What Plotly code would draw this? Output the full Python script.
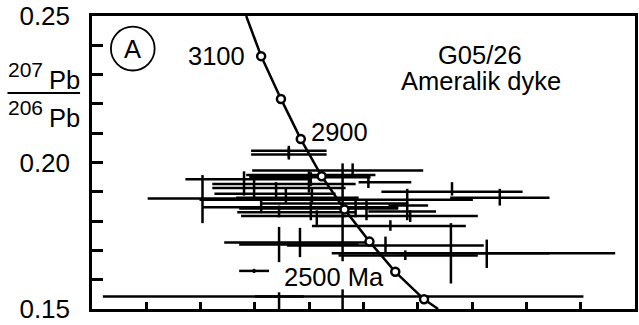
import plotly.graph_objects as go

# ---- concordia (Tera-Wasserburg) ----
conc_line_x = [1.568, 1.623, 1.696, 1.769, 1.846, 1.930, 2.022, 2.117, 2.223, 2.275]
conc_line_y = [0.250, 0.2363, 0.2217, 0.2080, 0.1953, 0.1840, 0.1730, 0.1627, 0.1533, 0.150]
conc_ages = [3100, 3000, 2900, 2800, 2700, 2600, 2500, 2400]
conc_tick_x = [1.623, 1.696, 1.769, 1.846, 1.930, 2.022, 2.117, 2.223]
conc_tick_y = [0.2363, 0.2217, 0.2080, 0.1953, 0.1840, 0.1730, 0.1627, 0.1533]

# ---- analyses: centre, x-range, y-range (238U/206Pb, 207Pb/206Pb) ----
spot_x = [1.725, 1.725, 1.960, 1.799, 1.806, 1.560, 1.407, 1.923, 1.623, 1.597, 1.678,
          2.326, 2.502, 1.810, 1.971, 1.806, 1.689, 2.172, 2.011, 1.828, 2.099, 2.322,
          1.766, 1.689, 2.081, 2.454, 2.154, 1.597, 1.923, 1.689, 2.018, 2.161, 1.714]
spot_y = [0.2040, 0.2027, 0.1973, 0.1957, 0.1950, 0.1943, 0.1877, 0.1873, 0.1847, 0.1927, 0.1913,
          0.1900, 0.1880, 0.1880, 0.1860, 0.1843, 0.1830, 0.1833, 0.1817, 0.1817, 0.1783, 0.1690,
          0.1727, 0.1720, 0.1717, 0.1690, 0.1683, 0.1630, 0.1543, 0.1543, 0.1933, 0.1853, 0.1893]
spot_xlo = [1.586, 1.586, 1.590, 1.568, 1.579, 1.344, 1.205, 1.396, 1.407, 1.443, 1.443,
            2.066, 2.319, 1.531, 1.626, 1.542, 1.535, 2.018, 1.835, 1.549, 1.810, 1.883,
            1.487, 1.542, 1.718, 2.128, 1.908, 1.542, 1.040, 1.600, 1.982, 2.092, 1.451]
spot_xhi = [1.864, 1.864, 2.220, 2.044, 2.026, 1.799, 1.623, 2.403, 2.128, 1.971, 1.934,
            2.586, 2.685, 1.982, 2.165, 2.128, 1.971, 2.267, 2.421, 1.934, 2.377, 2.927,
            2.029, 1.982, 2.443, 2.685, 2.421, 1.652, 2.810, 1.780, 2.176, 2.238, 1.897]
spot_ylo = [0.2017, 0.2010, 0.1947, 0.1897, 0.1920, 0.1887, 0.1793, 0.1663, 0.1827, 0.1877, 0.1877,
            0.1887, 0.1853, 0.1860, 0.1813, 0.1803, 0.1813, 0.1797, 0.1803, 0.1787, 0.1767, 0.1587,
            0.1677, 0.1660, 0.1687, 0.1640, 0.1667, 0.1623, 0.1493, 0.1490, 0.1913, 0.1803, 0.1863]
spot_yhi = [0.2057, 0.2050, 0.1997, 0.1970, 0.1967, 0.1970, 0.1957, 0.1997, 0.1870, 0.1947, 0.1933,
            0.1933, 0.1910, 0.1910, 0.1883, 0.1867, 0.1853, 0.1837, 0.1870, 0.1837, 0.1803, 0.1793,
            0.1777, 0.1780, 0.1747, 0.1737, 0.1700, 0.1637, 0.1567, 0.1557, 0.1950, 0.1910, 0.1910]

x_ticks = [1.0, 1.2, 1.4, 1.6, 1.8, 2.0, 2.2, 2.4, 2.6, 2.8, 3.0]
y_ticks = [0.15, 0.16, 0.17, 0.18, 0.19, 0.20, 0.21, 0.22, 0.23, 0.24, 0.25]
y_ticktext = ["0.15", "", "", "", "", "0.20", "", "", "", "", "0.25"]

FONT = "Liberation Sans, Arial, sans-serif"
OFF = 8                      # default page body margin
WIN_W, WIN_H = 639, 325
# final plot area in window pixels: x 92..638, y 16..317
X0, X1, Y0, Y1 = 92, 638, 16, 317
PW, PH = X1 - X0, Y1 - Y0
# initial figure fits inside the body margins (no page overflow)
W0, H0 = WIN_W - 2 * OFF, WIN_H - 2 * OFF


def px(xp):
    return (xp - X0) / PW


def py(yp):
    return (Y1 - yp) / PH


fig = go.Figure()

fig.add_trace(go.Scatter(
    x=spot_x, y=spot_y, mode="markers",
    marker=dict(size=1, color="rgba(0,0,0,0)"),
    error_x=dict(type="data", symmetric=False,
                 array=[h - c for h, c in zip(spot_xhi, spot_x)],
                 arrayminus=[c - l for l, c in zip(spot_xlo, spot_x)],
                 width=0, thickness=2.5, color="black"),
    error_y=dict(type="data", symmetric=False,
                 array=[h - c for h, c in zip(spot_yhi, spot_y)],
                 arrayminus=[c - l for l, c in zip(spot_ylo, spot_y)],
                 width=0, thickness=2.5, color="black"),
    hoverinfo="skip", showlegend=False))

fig.add_trace(go.Scatter(x=conc_line_x, y=conc_line_y, mode="lines",
                         line=dict(color="black", width=2.5), showlegend=False,
                         hoverinfo="skip"))
fig.add_trace(go.Scatter(x=conc_tick_x, y=conc_tick_y, mode="markers",
                         marker=dict(symbol="circle", size=8, color="white",
                                     line=dict(color="black", width=2.5)),
                         showlegend=False, hoverinfo="skip"))

ann_font = dict(family=FONT, size=25.5, color="black")
# concordia age labels
fig.add_annotation(x=conc_tick_x[0], y=conc_tick_y[0], text=str(conc_ages[0]),
                   showarrow=False, xanchor="right", yanchor="middle",
                   xshift=-14, yshift=0, font=ann_font)
fig.add_annotation(x=conc_tick_x[2], y=conc_tick_y[2], text=str(conc_ages[2]),
                   showarrow=False, xanchor="left", yanchor="middle",
                   xshift=8, yshift=7, font=ann_font)
fig.add_annotation(x=conc_tick_x[6], y=conc_tick_y[6], text=f"{conc_ages[6]} Ma",
                   showarrow=False, xanchor="right", yanchor="middle",
                   xshift=-9, yshift=-5, font=ann_font)


def paper_text(xp, yp, text, size):
    fig.add_annotation(xref="paper", yref="paper", x=px(xp), y=py(yp), text=text,
                       showarrow=False, xanchor="center", yanchor="middle",
                       borderpad=0,
                       font=dict(family=FONT, size=size, color="black"))


# sample label
paper_text(482, 56, "G05/26", 25.5)
paper_text(483, 83, "Ameralik dyke", 25.5)

# panel letter
fig.add_shape(type="circle", xref="paper", yref="paper",
              x0=px(111), x1=px(155), y0=py(72), y1=py(27),
              line=dict(color="black", width=1.8))
paper_text(133, 50, "A", 25.5)

# y-axis title as fraction
paper_text(25, 71, "207", 21)
paper_text(64, 82, "Pb", 25.5)
paper_text(25, 110, "206", 21)
paper_text(64, 121, "Pb", 25.5)
fig.add_shape(type="line", xref="paper", yref="paper",
              x0=px(7), x1=px(80), y0=py(95), y1=py(95),
              line=dict(color="black", width=2))

fig.update_layout(
    width=W0, height=H0, autosize=False,
    margin=dict(l=X0 - OFF, r=1, t=Y0 - OFF, b=1),
    plot_bgcolor="white", paper_bgcolor="white",
    font=dict(family=FONT, color="black"),
    hovermode=False,
    xaxis=dict(range=[1.0, 3.0], tickvals=x_ticks, showticklabels=False,
               ticks="inside", ticklen=7, tickwidth=2.5, tickcolor="black",
               showline=True, linewidth=2.5, linecolor="black", mirror=True,
               showgrid=False, zeroline=False),
    yaxis=dict(range=[0.15, 0.25], tickvals=y_ticks, ticktext=y_ticktext,
               ticks="inside", ticklen=11, tickwidth=3, tickcolor="black",
               tickfont=dict(family=FONT, size=26, color="black"),
               ticklabelstandoff=14, ticklabeloverflow="allow",
               showline=True, linewidth=2.5, linecolor="black", mirror=True,
               showgrid=False, zeroline=False),
)

# after drawing: drop the page margin and let the figure fill the actual window,
# keeping every layout proportion of the 639x325 design
post = (
    "var gd=document.getElementById('{plot_id}');"
    "document.body.style.margin='0';"
    "document.documentElement.style.overflow='hidden';"
    "var iw=window.innerWidth||%d, ih=window.innerHeight||%d;"
    "var kx=iw/%d, ky=ih/%d, k=(kx+ky)/2;"
    "var upd={width:iw,height:ih,'margin.l':%d*kx,'margin.t':%d*ky,"
    "'margin.r':%d*kx,'margin.b':%d*ky,'yaxis.tickfont.size':26*k,"
    "'yaxis.ticklabelstandoff':14*kx,'yaxis.ticklen':11*kx,'xaxis.ticklen':7*ky};"
    "var anns=gd.layout.annotations||[];"
    "for(var i=0;i<anns.length;i++){var a=anns[i];"
    "upd['annotations['+i+'].font.size']=a.font.size*k;"
    "if(a.xshift){upd['annotations['+i+'].xshift']=a.xshift*kx;}"
    "if(a.yshift){upd['annotations['+i+'].yshift']=a.yshift*ky;}}"
    "Plotly.relayout(gd,upd);"
) % (WIN_W, WIN_H, WIN_W, WIN_H, X0, Y0, WIN_W - X1, WIN_H - Y1)

fig.write_html("out.html",
               config={"responsive": False, "displayModeBar": False},
               post_script=post)
